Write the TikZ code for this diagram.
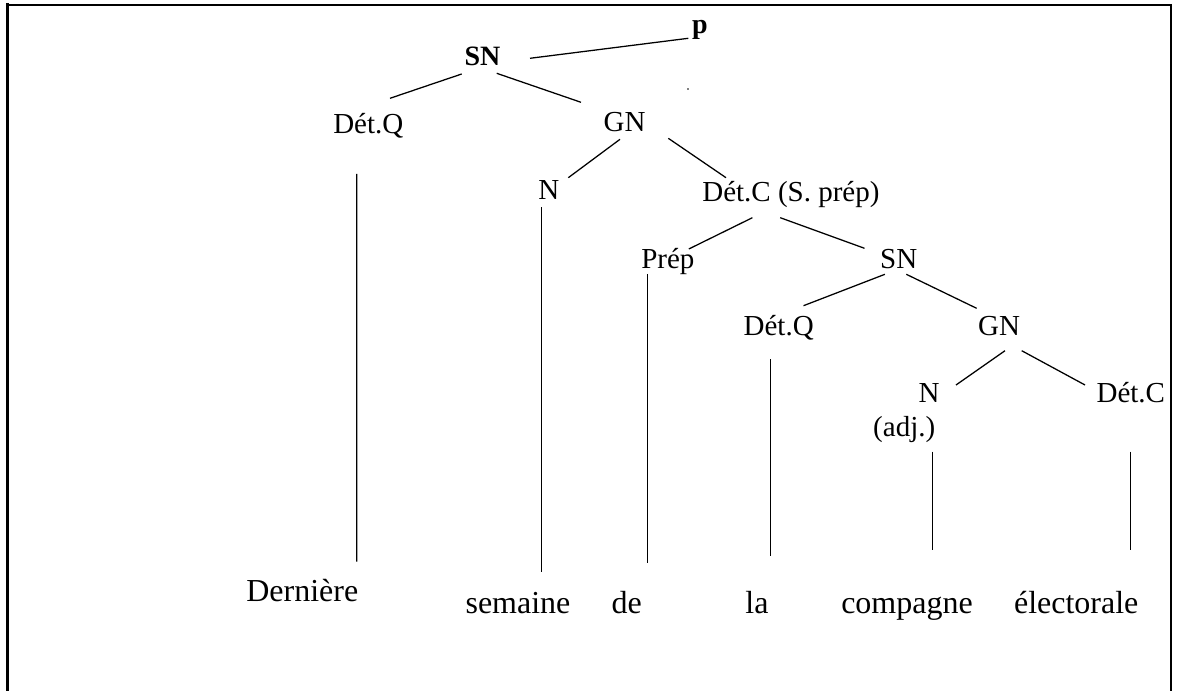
\documentclass[tikz,border=0pt]{standalone}
\usepackage{fontspec}
\setmainfont{Liberation Serif}
\usetikzlibrary{calc}
\begin{document}
\begin{tikzpicture}[x=0.75pt,y=-0.75pt,
  lab/.style={font=\fontsize{21.75}{26}\selectfont, inner sep=0pt, anchor=base},
  blab/.style={font=\fontsize{21}{25}\selectfont\bfseries, inner sep=0pt, anchor=base},
  word/.style={font=\fontsize{24}{28}\selectfont, inner sep=0pt, anchor=base},
  edge/.style={line width=0.95pt},
  frame/.style={line width=2pt}]
\useasboundingbox (0,0) rectangle (1180,691);
% frame (open at the bottom)
\draw[line width=2.2pt] (7.5,691) -- (7.5,3.5);
\draw[line width=2pt] (6,5) -- (1171.5,5);
\draw[line width=1.5pt] (1170.5,4) -- (1170.5,691);
% nodes
\node[blab] (p) at (700,34) {p};
\node[blab] (SNt) at (482.5,65.7) {SN};
\node[lab] (DQ1) at (368.3,133.3) {Dét.Q};
\node[lab] (GN1) at (624.5,131.7) {GN};
\node[lab] (N1) at (548.8,200) {N};
\node[lab] (DC1) at (790.9,201.7) {Dét.C (S. prép)};
\node[lab] (Prep) at (667.9,268.3) {Prép};
\node[lab] (SN2) at (898.7,268.3) {SN};
\node[lab] (DQ2) at (778.7,335.7) {Dét.Q};
\node[lab] (GN2) at (999,335.7) {GN};
\node[lab] (N2) at (929.2,402.7) {N};
\node[lab] (adj) at (904.2,436) {(adj.)};
\node[lab] (DC2) at (1130.8,402.7) {Dét.C};
\node[word] (W1) at (302.3,601.7) {Dernière};
\node[word] (W2) at (518,613.5) {semaine};
\node[word] (W3) at (626.7,613.5) {de};
\node[word] (W4) at (757,613.5) {la};
\node[word] (W5) at (907,613.5) {compagne};
\node[word] (W6) at (1076.2,613.5) {électorale};
% stray dot
\fill (688,89) circle (0.9);
% connectors
\draw[edge] ($(SNt.base)+(47.5,-7.4)$) -- ($(p.base)+(-11.7,4.3)$);
\draw[edge] ($(SNt.base)+(-20.8,8.3)$) -- ($(DQ1.base)+(21.7,-35)$);
\draw[edge] ($(SNt.base)+(14.2,7.6)$) -- ($(GN1.base)+(-43.5,-29.4)$);
\draw[edge] ($(GN1.base)+(-4.5,7.6)$) -- ($(N1.base)+(19.5,-22.3)$);
\draw[edge] ($(GN1.base)+(43.8,6.6)$) -- ($(DC1.base)+(-64.9,-24)$);
\draw[edge] ($(DC1.base)+(-38.5,16)$) -- ($(Prep.base)+(20.9,-19.3)$);
\draw[edge] ($(DC1.base)+(-10.7,16)$) -- ($(SN2.base)+(-34.2,-20)$);
\draw[edge] ($(SN2.base)+(-13.8,6)$) -- ($(DQ2.base)+(24.8,-30)$);
\draw[edge] ($(SN2.base)+(7.6,6)$) -- ($(GN2.base)+(-22.4,-27.4)$);
\draw[edge] ($(GN2.base)+(6,15)$) -- ($(N2.base)+(26.8,-17.7)$);
\draw[edge] ($(GN2.base)+(22.7,15)$) -- ($(DC2.base)+(-45.8,-17.7)$);
% vertical lines to the words
\draw[edge] ($(DQ1.base)+(-11.6,40.7)$) -- ($(W1.base)+(54.4,-40)$);
\draw[edge] ($(N1.base)+(-7.1,7.3)$) -- ($(W2.base)+(23.7,-41.5)$);
\draw[edge] ($(Prep.base)+(-20.2,5.7)$) -- ($(W3.base)+(21,-50.8)$);
\draw[edge] ($(DQ2.base)+(-8.5,23.6)$) -- ($(W4.base)+(13.2,-57.5)$);
\draw[edge] ($(adj.base)+(28.1,15.7)$) -- ($(W5.base)+(25.3,-63.5)$);
\draw[edge] ($(DC2.base)+(0,49)$) -- ($(W6.base)+(54.6,-63.5)$);
\end{tikzpicture}
\end{document}
